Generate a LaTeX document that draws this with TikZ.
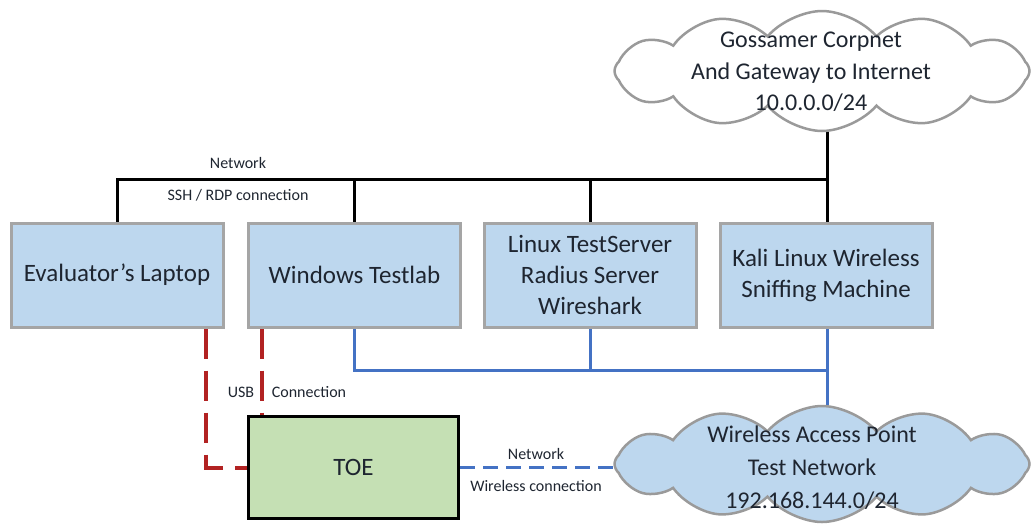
\documentclass[tikz,border=0pt]{standalone}
\usepackage{fontspec}
\setmainfont{Carlito}
\usetikzlibrary{shapes.symbols}
\pgfdeclarelayer{background}
\pgfsetlayers{background,main}
\definecolor{boxblue}{HTML}{BDD7EE}
\definecolor{boxedge}{HTML}{A5A5A5}
\definecolor{toegreen}{HTML}{C5E0B4}
\definecolor{txt}{HTML}{1E2530}
\definecolor{netblue}{HTML}{4472C4}
\definecolor{usbred}{HTML}{B22222}
\definecolor{cloudedge}{HTML}{9A9A9A}
\begin{document}
\begin{tikzpicture}[x=1pt,y=-1pt,
  bigtext/.style={font=\fontsize{25}{31}\selectfont, text=txt, align=center},
  smalltext/.style={font=\fontsize{16}{19}\selectfont, text=txt},
  hostbox/.style={bigtext, draw=boxedge, fill=boxblue, line width=3pt, minimum width=212pt, minimum height=104pt, inner sep=2pt},
  toebox/.style={bigtext, draw=black, fill=toegreen, line width=3.5pt, minimum width=210pt, minimum height=102pt},
  cloudshape/.style={cloud, cloud puffs=12, cloud puff arc=100, cloud ignores aspect, draw=cloudedge, line width=2.5pt, minimum width=415pt, minimum height=120pt, inner sep=0pt},
  cloudtext/.style={bigtext, inner sep=0pt},
  netline/.style={black, line width=3pt},
  lanline/.style={netblue, line width=3pt},
  usbline/.style={usbred, line width=4pt, dash pattern=on 30pt off 12pt},
  wifiline/.style={netblue, line width=3pt, dash pattern=on 15pt off 8pt}]
\useasboundingbox (0,0) rectangle (1032,523);

\node[cloudshape, fill=white] (gcloud) at (822,71) {};
\node[cloudtext, font=\fontsize{24}{31.5}\selectfont] (gtext) at (811,72)
  {Gossamer Corpnet\\And Gateway to Internet\\10.0.0.0/24};
\node[cloudshape, fill=boxblue, minimum height=116pt] (wcloud) at (822,464) {};
\node[cloudtext, font=\fontsize{24}{33}\selectfont] (wtext) at (812,468)
  {Wireless Access Point\\Test Network\\192.168.144.0/24};

\node[hostbox] (lap) at (117,275) {Evaluator's Laptop};
\node[hostbox] (win) at (354.5,275) {Windows Testlab};
\node[hostbox] (lin) at (590,275) {Linux TestServer\\Radius Server\\Wireshark};
\node[hostbox] (kali) at (826,275) {Kali Linux Wireless\\Sniffing Machine};
\node[toebox] (toe) at (353.5,467.5) {TOE};

\coordinate (busR) at (827,179);
\coordinate (lanR) at (827,370);

\begin{pgfonlayer}{background}
% black network
\draw[netline] (lap.north) |- (busR);
\draw[netline] (win.north) -- (win.north |- busR);
\draw[netline] (lin.north) -- (lin.north |- busR);
\draw[netline] (gcloud.center -| busR) -- (kali.north -| busR);

% blue LAN
\draw[lanline] (win.south) |- (lanR);
\draw[lanline] (lin.south) -- (lin.south |- lanR);
\draw[lanline] (kali.south -| lanR) -- (wcloud.center -| lanR);

% red USB
\draw[usbline] ([xshift=89pt]lap.south) |- (toe.west);
\draw[usbline] ([xshift=-92.5pt]win.south) -- ([xshift=-92.5pt]win.south |- toe.north);

% wireless
\draw[wifiline] (toe.east) -- (toe.east -| wcloud.center);
\end{pgfonlayer}

% labels
\node[smalltext] (lnet) at (238,163) {Network};
\node[smalltext] (lssh) at (238,195) {SSH / RDP connection};
\node[smalltext] (lusb) at (241,392) {USB};
\node[smalltext] (lcon) at (309,392) {Connection};
\node[smalltext] (lwnet) at (536,454) {Network};
\node[smalltext] (lwcon) at (536,486) {Wireless connection};
\end{tikzpicture}
\end{document}
